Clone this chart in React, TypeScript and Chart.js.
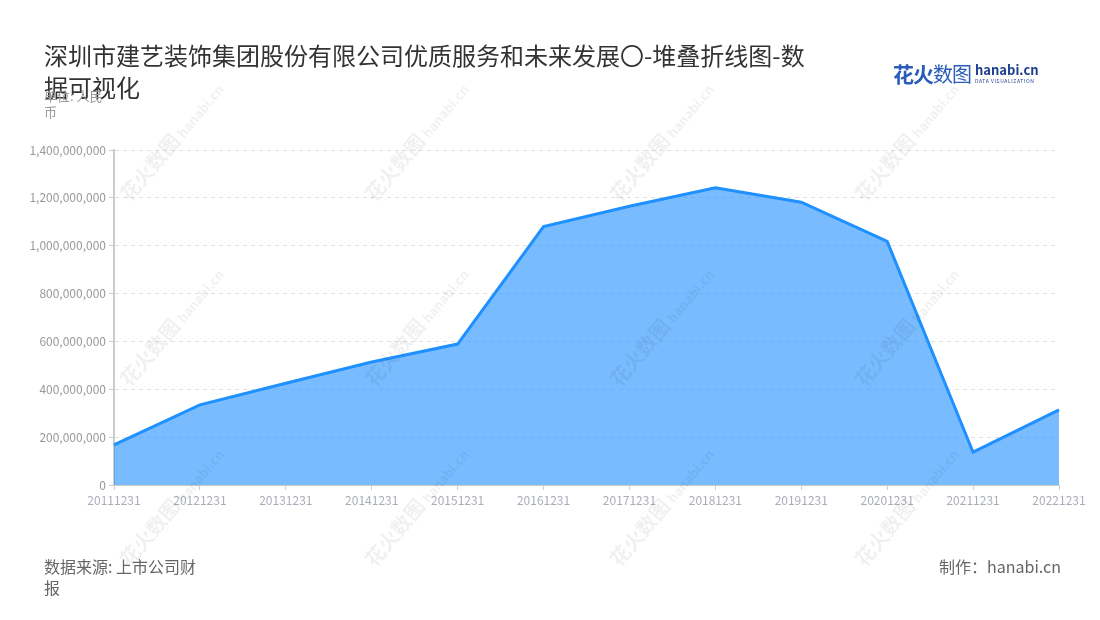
import React, { useEffect, useRef } from "react";
import { Chart, registerables } from "chart.js";

Chart.register(...registerables);

const categories = [
  "20111231", "20121231", "20131231", "20141231", "20151231", "20161231",
  "20171231", "20181231", "20191231", "20201231", "20211231", "20221231",
];
const seriesValues = [
  168000000, 335000000, 425000000, 514000000, 589000000, 1080000000,
  1165000000, 1242000000, 1182000000, 1018000000, 137000000, 314000000,
];
const yTicks = [0, 200000000, 400000000, 600000000, 800000000, 1000000000, 1200000000, 1400000000];

const titleText = "深圳市建艺装饰集团股份有限公司优质服务和未来发展〇-堆叠折线图-数据可视化";
const unitText = "单位: 人民币";
const sourceText = "数据来源: 上市公司财报";
const makerText = "制作：hanabi.cn";

const FONT = '"Noto Sans CJK SC", "Noto Sans", sans-serif';

const wmRows = [150, 335, 515];
const wmCols = [160, 405, 650, 895];

export default function App() {
  const ref = useRef<HTMLCanvasElement | null>(null);

  useEffect(() => {
    if (!ref.current) return;
    const chart = new Chart(ref.current, {
      type: "line",
      data: {
        labels: categories,
        datasets: [
          {
            data: seriesValues,
            borderColor: "#1e90ff",
            backgroundColor: "rgba(30,144,255,0.6)",
            borderWidth: 3,
            fill: "origin",
            pointRadius: 0,
            tension: 0,
          },
        ],
      },
      options: {
        animation: false,
        responsive: false,
        maintainAspectRatio: false,
        layout: { padding: { top: 150, right: 41, left: 0, bottom: 0 } },
        plugins: { legend: { display: false }, tooltip: { enabled: false } },
        scales: {
          x: {
            offset: false,
            afterFit: (s: any) => { s.height = 135; },
            grid: { drawOnChartArea: false, drawTicks: true, tickLength: 5, color: "#cccccc" },
            border: { display: true, color: "#cccccc", width: 1 },
            ticks: {
              color: "#a9adb8",
              font: { family: FONT, size: 12 },
              padding: 3,
              maxRotation: 0,
              autoSkip: false,
            },
          },
          y: {
            min: 0,
            max: 1400000000,
            afterFit: (s: any) => { s.width = 114; },
            afterBuildTicks: (s: any) => { s.ticks = yTicks.map((v) => ({ value: v })); },
            grid: {
              color: "#e0e0e0",
              tickColor: "#cccccc",
              tickLength: 5,
              tickBorderDash: [],
            },
            border: { display: true, color: "#cccccc", width: 2, dash: [4, 4] },
            ticks: {
              color: "#999999",
              font: { family: FONT, size: 12 },
              padding: 3,
              callback: (v: any) => Number(v).toLocaleString("en-US"),
            },
          },
        },
      },
    });
    return () => chart.destroy();
  }, []);

  return (
    <div style={{ position: "absolute", left: 0, top: 0, width: 1100, height: 620, background: "#fff", fontFamily: FONT, overflow: "hidden" }}>
      <canvas ref={ref} width={1100} height={620} style={{ position: "absolute", left: 0, top: 0, width: 1100, height: 620 }} />
      <div style={{ position: "absolute", left: 44, top: 39, width: 770, fontSize: 24, lineHeight: "32px", color: "#333" }}>{titleText}</div>
      <div style={{ position: "absolute", left: 44, top: 88, width: 66, fontSize: 13, lineHeight: "16px", color: "#999" }}>{unitText}</div>
      <div style={{ position: "absolute", left: 44, top: 556, width: 160, fontSize: 16, lineHeight: "21px", color: "#666" }}>{sourceText}</div>
      <div style={{ position: "absolute", right: 39, top: 556, fontSize: 16, lineHeight: "21px", color: "#666" }}>{makerText}</div>
      <div style={{ position: "absolute", left: 893, top: 58, display: "flex", alignItems: "center" }}>
        <span style={{ fontSize: 21, fontWeight: 700, color: "#2a5cb8", letterSpacing: -1 }}>花火</span>
        <span style={{ fontSize: 20, color: "#2a5cb8", letterSpacing: -1 }}>数图</span>
        <span style={{ display: "flex", flexDirection: "column", marginLeft: 4, lineHeight: 1 }}>
          <span style={{ fontSize: 13, fontWeight: 700, color: "#1d3f8f" }}>hanabi.cn</span>
          <span style={{ fontSize: 5, color: "#1d3f8f", letterSpacing: 0.6, marginTop: 2 }}>DATA VISUALIZATION</span>
        </span>
      </div>
      {wmRows.map((y) =>
        wmCols.map((x) => (
          <div key={`${x}-${y}`} style={{ position: "absolute", left: x - 60, top: y - 12, width: 160, transform: "rotate(-50deg)", transformOrigin: "60px 12px", color: "rgba(0,0,0,0.06)", whiteSpace: "nowrap", pointerEvents: "none" }}>
            <span style={{ fontSize: 20, fontWeight: 700 }}>花火数图</span>
            <span style={{ fontSize: 13, fontWeight: 700, marginLeft: 4 }}>hanabi.cn</span>
          </div>
        ))
      )}
    </div>
  );
}
